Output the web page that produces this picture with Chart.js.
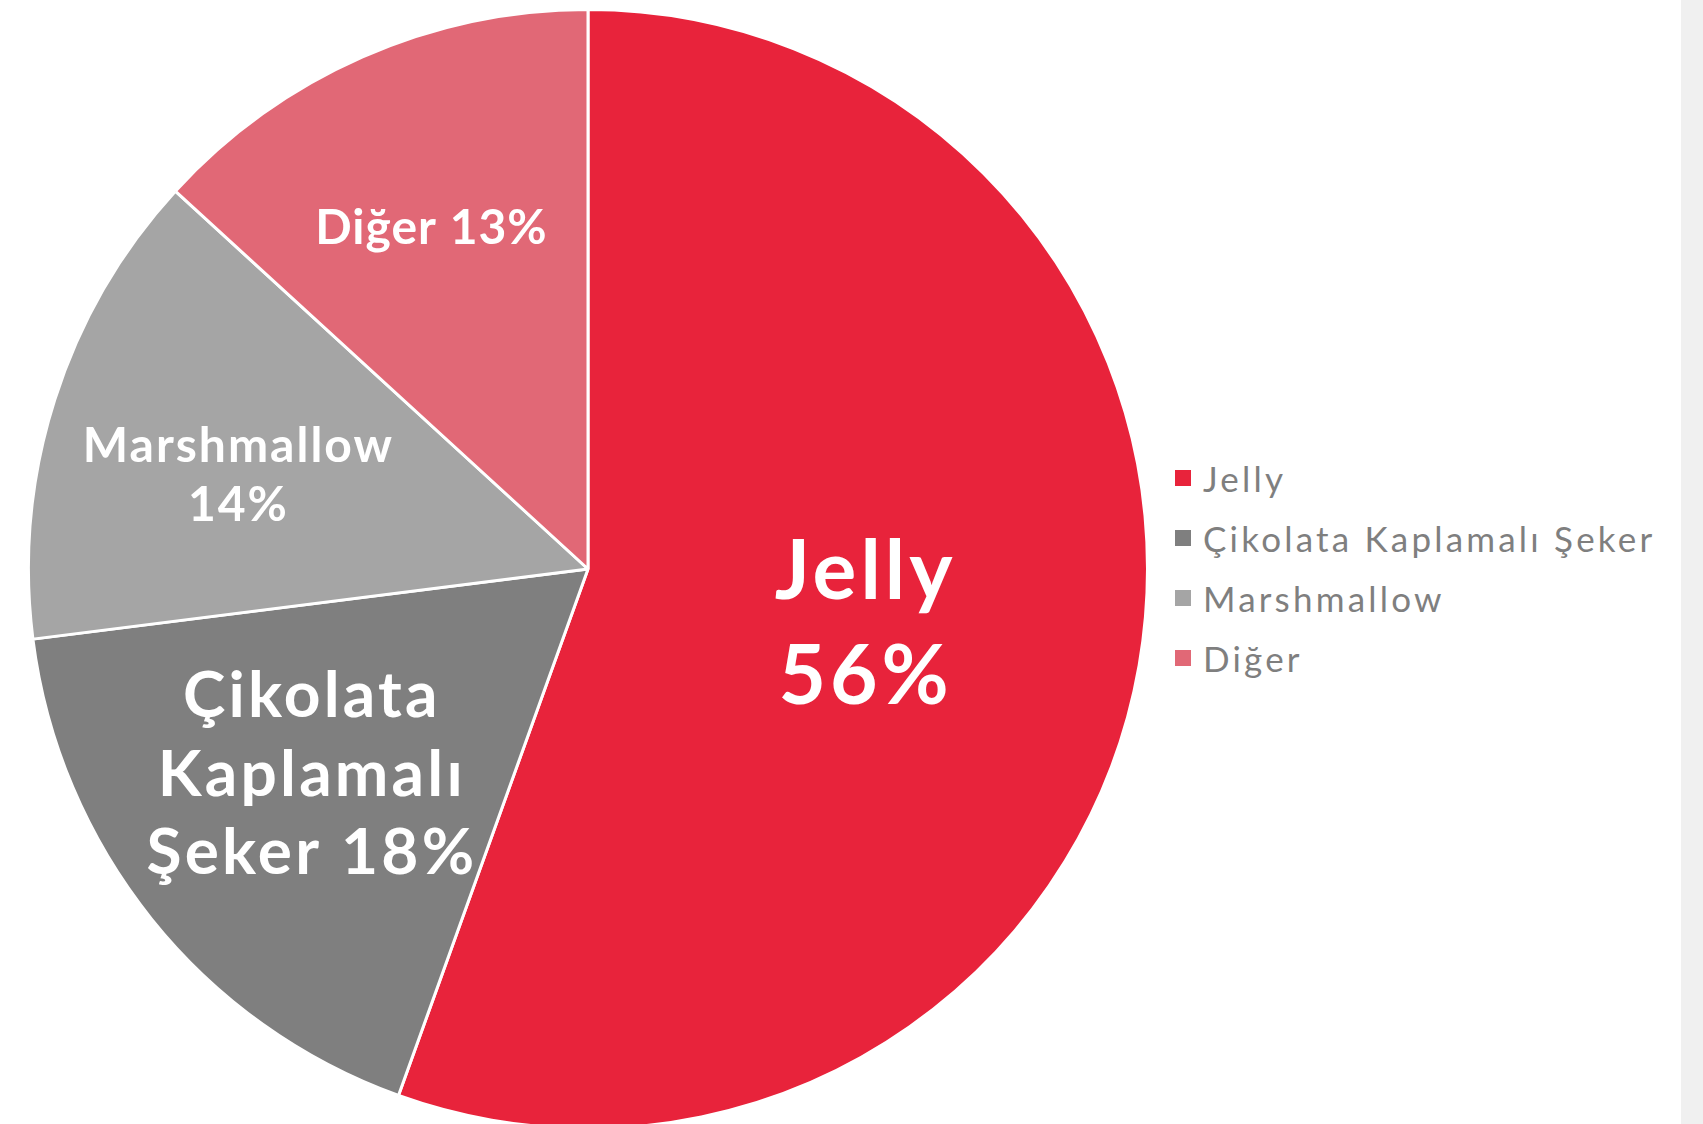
<!DOCTYPE html>
<html>
<head>
<meta charset="utf-8">
<script src="https://cdn.jsdelivr.net/npm/chart.js@4.4.1/dist/chart.umd.min.js"></script>
<style>
  html, body { margin: 0; padding: 0; overflow: hidden; background: #f0f0f0; }
  #sayfa { position: absolute; left: 0; top: 0; width: 1681px; height: 1124px; background: #ffffff; overflow: hidden; }
  #pastaKutu { position: absolute; left: 27px; top: 8px; width: 1122px; height: 1122px; }
  #lejant { position: absolute; left: 1175px; top: 448px; font-family: Lato, sans-serif; color: #7f7f7f; font-size: 35px; letter-spacing: 3.2px; }
  .satir { height: 60px; display: flex; align-items: center; white-space: nowrap; }
  .kutu { width: 16px; height: 16px; margin-right: 12px; flex: none; }
</style>
</head>
<body>
<div id="sayfa">
  <div id="pastaKutu"><canvas id="pastaChart"></canvas></div>
  <div id="lejant"></div>
</div>
<script>
// Dados
const kategoriler = ['Jelly', 'Çikolata Kaplamalı Şeker', 'Marshmallow', 'Diğer'];
const paylar = [55.5, 17.5, 13.8, 13.2];
const renkler = ['#e8233b', '#7f7f7f', '#a5a5a5', '#e16876'];

// Legenda em HTML
const lejant = document.getElementById('lejant');
kategoriler.forEach(function(k, i) {
  const s = document.createElement('div');
  s.className = 'satir';
  s.innerHTML = '<span class="kutu" style="background:' + renkler[i] + '"></span>' + k;
  lejant.appendChild(s);
});

// Rótulos dentro das fatias
const etiketPlugin = {
  id: 'etiketler',
  afterDatasetsDraw(chart, args, opts) {
    const ctx = chart.ctx;
    const meta = chart.getDatasetMeta(0);
    const toplam = paylar.reduce((a, b) => a + b, 0);
    meta.data.forEach(function(arc, i) {
      const p = arc.getProps(['x', 'y', 'startAngle', 'endAngle', 'outerRadius'], true);
      const orta = (p.startAngle + p.endAngle) / 2;
      const r = p.outerRadius * opts.oran[i];
      const x = p.x + Math.cos(orta) * r + opts.kaydir[i][0];
      const y = p.y + Math.sin(orta) * r + opts.kaydir[i][1];
      const metin = kategoriler[i] + ' ' + Math.round(paylar[i] / toplam * 100) + '%';
      ctx.save();
      ctx.font = 'bold ' + opts.boyut[i] + 'px Lato, sans-serif';
      ctx.letterSpacing = opts.aralik[i] + 'px';
      ctx.fillStyle = '#ffffff';
      ctx.textAlign = 'center';
      ctx.textBaseline = 'middle';
      // quebra de linha simples por largura
      const kelimeler = metin.split(' ');
      const satirlar = [];
      let cur = '';
      kelimeler.forEach(function(w) {
        const dene = cur ? cur + ' ' + w : w;
        if (cur && ctx.measureText(dene).width > opts.genislik[i]) {
          satirlar.push(cur);
          cur = w;
        } else {
          cur = dene;
        }
      });
      satirlar.push(cur);
      const lh = opts.boyut[i] * opts.satirYuk[i];
      const y0 = y - (satirlar.length - 1) * lh / 2;
      satirlar.forEach(function(s, j) {
        ctx.fillText(s, x + opts.aralik[i] / 2, y0 + j * lh);
      });
      ctx.restore();
    });
  }
};

const pastaCtx = document.getElementById('pastaChart').getContext('2d');
const pastaChart = new Chart(pastaCtx, {
  type: 'pie',
  data: {
    labels: kategoriler,
    datasets: [{
      data: paylar,
      backgroundColor: renkler,
      borderColor: '#ffffff',
      borderWidth: 3
    }]
  },
  options: {
    responsive: true,
    maintainAspectRatio: false,
    animation: false,
    layout: { padding: 0 },
    plugins: {
      legend: { display: false },
      tooltip: { enabled: false },
      etiketler: {
        oran: [0.50, 0.62, 0.65, 0.67],
        kaydir: [[0, 8], [-7, -11], [-4, 17], [-6, 3]],
        boyut: [82, 64, 48, 48],
        aralik: [4, 3.2, 2, 1],
        satirYuk: [1.28, 1.22, 1.22, 1.2],
        genislik: [220, 360, 330, 330]
      }
    }
  },
  plugins: [etiketPlugin]
});
</script>
</body>
</html>
